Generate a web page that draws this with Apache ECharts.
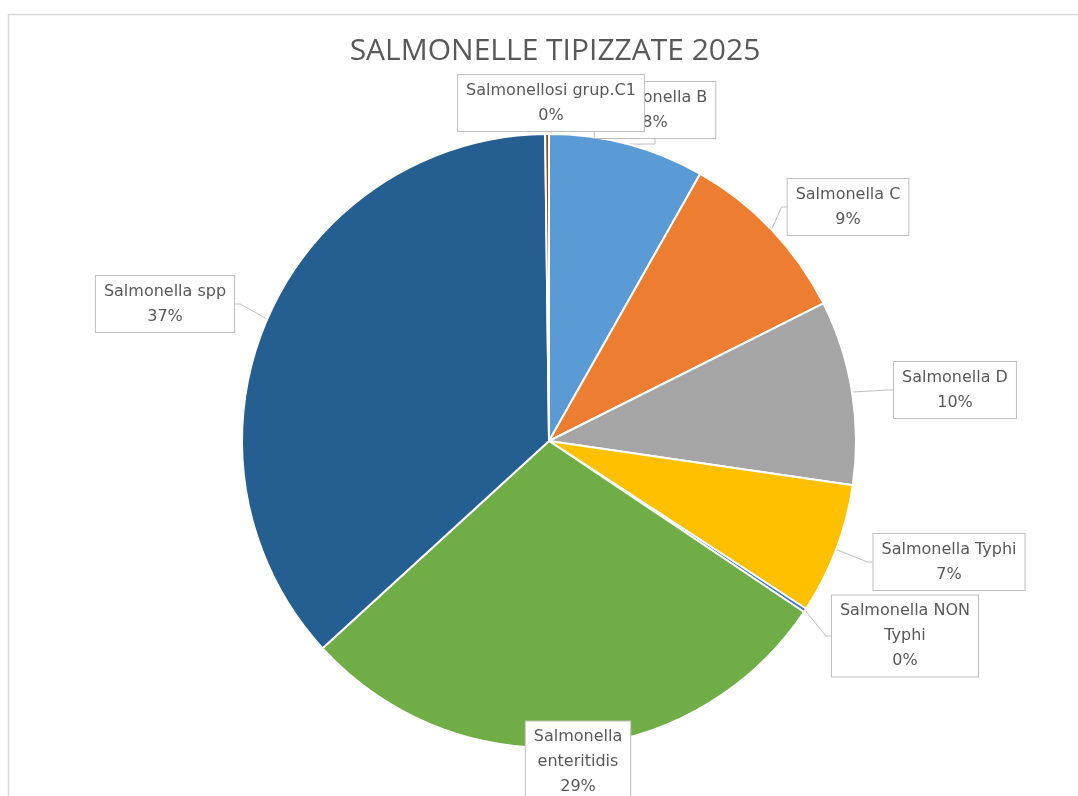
<!DOCTYPE html>
<html>
<head>
<meta charset="utf-8">
<script src="https://cdn.jsdelivr.net/npm/echarts@6/dist/echarts.min.js"></script>
<style>
html,body{margin:0;padding:0;background:#fff;}
#chart{width:1078px;height:796px;}
</style>
</head>
<body>
<div id="chart"></div>
<script>
// ---- data ----
const titleText = "SALMONELLE TIPIZZATE 2025";
const categories = [
  "Salmonella B",
  "Salmonella C",
  "Salmonella D",
  "Salmonella Typhi",
  "Salmonella NON Typhi",
  "Salmonella enteritidis",
  "Salmonella spp",
  "Salmonellosi grup.C1"
];
const labelNames = [
  "Salmonella B",
  "Salmonella C",
  "Salmonella D",
  "Salmonella Typhi",
  "Salmonella NON\nTyphi",
  "Salmonella\nenteritidis",
  "Salmonella spp",
  "Salmonellosi grup.C1"
];
const values = [8.2, 9.4, 9.7, 6.9, 0.2, 28.8, 36.6, 0.2];
const colors = ["#5B9BD5", "#ED7D31", "#A5A5A5", "#FFC000", "#4472C4", "#70AD47", "#255E91", "#9E480E"];

// ---- layout (label box centres) ----
const labelCenters = [
  [655, 110], [848, 207], [955, 390], [949, 562],
  [905, 636], [578, 762], [165, 304], [551, 103]
];

const chart = echarts.init(document.getElementById('chart'), null, {renderer: 'canvas'});
const font = "'DejaVu Sans', 'Open Sans', sans-serif";

chart.setOption({
  backgroundColor: '#ffffff',
  animation: false,
  graphic: [{
    type: 'rect',
    shape: {x: 8.5, y: 14.5, width: 1200, height: 900},
    style: {fill: 'none', stroke: '#d9d9d9', lineWidth: 1.5},
    silent: true,
    z: -10
  }],
  title: {
    text: titleText,
    left: 550,
    top: 31,
    textAlign: 'center',
    textStyle: {
      fontFamily: "'Open Sans', sans-serif",
      fontSize: 30,
      fontWeight: 'normal',
      color: '#595959'
    }
  },
  series: [{
    type: 'pie',
    center: [549, 441],
    radius: [0, 307],
    startAngle: 90,
    clockwise: true,
    avoidLabelOverlap: false,
    itemStyle: {borderColor: '#ffffff', borderWidth: 2},
    data: categories.map((c, i) => ({
      name: c,
      value: values[i],
      itemStyle: {color: colors[i]}
    })),
    label: {
      show: true,
      position: 'outside',
      formatter: p => labelNames[p.dataIndex] + '\n' + Math.round(p.percent) + '%',
      fontFamily: font,
      fontSize: 16,
      lineHeight: 25,
      color: '#595959',
      align: 'center',
      backgroundColor: '#ffffff',
      borderColor: '#bfbfbf',
      borderWidth: 1,
      padding: [3, 8, 3, 8]
    },
    labelLine: {
      show: true,
      length: 5,
      length2: 5,
      lineStyle: {color: '#bfbfbf', width: 1}
    },
    labelLayout: function (params) {
      const c = labelCenters[params.dataIndex];
      return {
        x: c[0],
        y: c[1],
        align: 'center',
        verticalAlign: 'middle',
        draggable: false
      };
    }
  }]
});
</script>
</body>
</html>
